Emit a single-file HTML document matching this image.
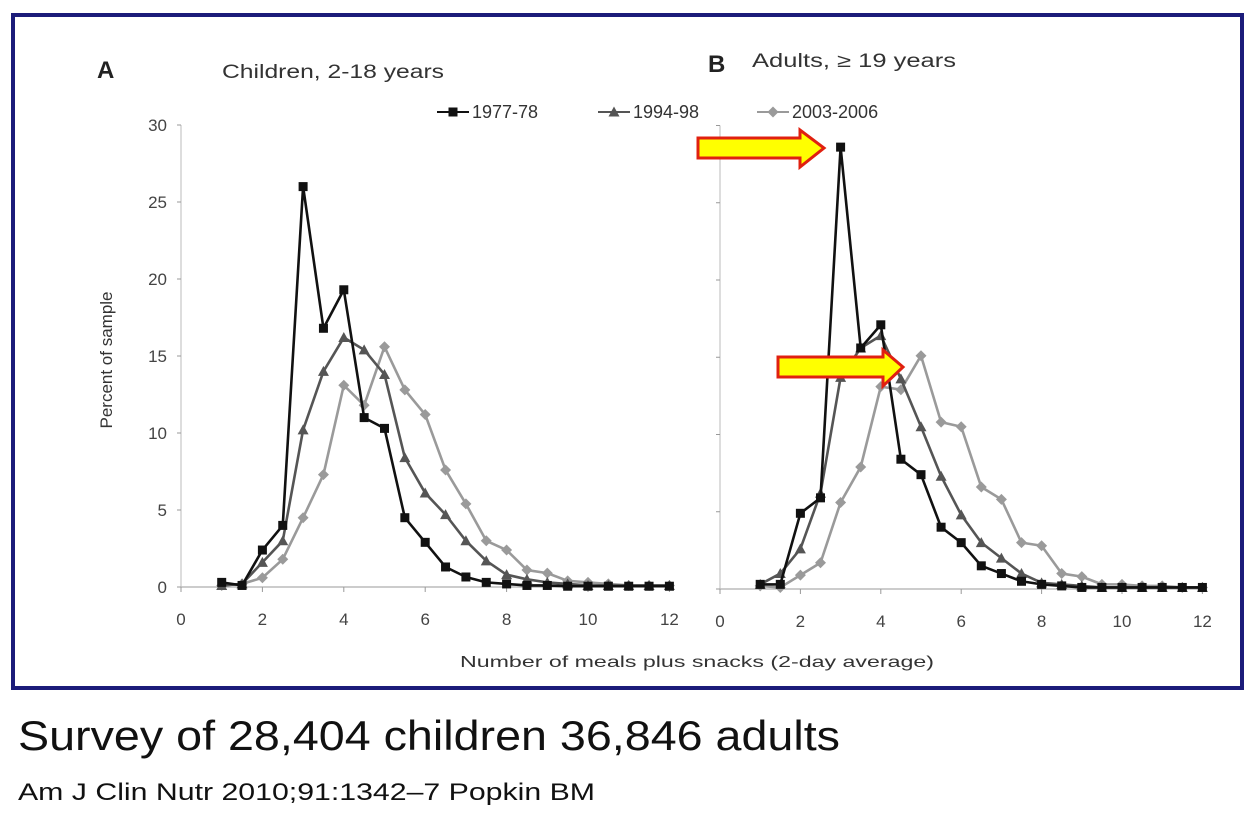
<!DOCTYPE html>
<html><head><meta charset="utf-8"><style>
html,body{margin:0;padding:0;background:#fff;width:1256px;height:816px;overflow:hidden;font-family:"Liberation Sans",sans-serif}
</style></head><body>
<svg width="1256" height="816" viewBox="0 0 1256 816" xmlns="http://www.w3.org/2000/svg">
<rect x="13" y="15" width="1229" height="673" fill="#fff" stroke="#1c1c7a" stroke-width="4"/>
<g font-family="Liberation Sans, sans-serif" fill="#333">
<text x="97" y="78" font-size="24" font-weight="bold" fill="#222">A</text>
<text x="222" y="78" font-size="19" textLength="222" lengthAdjust="spacingAndGlyphs">Children, 2-18 years</text>
<text x="708" y="72" font-size="24" font-weight="bold" fill="#222">B</text>
<text x="752" y="67" font-size="19" textLength="204" lengthAdjust="spacingAndGlyphs">Adults, ≥ 19 years</text>
<text transform="translate(112,360) rotate(-90)" text-anchor="middle" font-size="17">Percent of sample</text>
<text x="697" y="667" text-anchor="middle" font-size="16" textLength="474" lengthAdjust="spacingAndGlyphs">Number of meals plus snacks (2-day average)</text>
</g>
<g id="legend"></g>
<g id="plotA"></g>
<g id="plotB"></g>
<g>
<polygon points="698,138 800,138 800,130 824,148 800,167 800,158 698,158" fill="#ffff00" stroke="#e02010" stroke-width="3"/>
</g>
<g>
<polygon points="778,357 883,357 883,350 903,367 883,386 883,377 778,377" fill="#ffff00" stroke="#e02010" stroke-width="3"/>
</g>
<text x="18" y="750" font-size="42" fill="#111" textLength="822" lengthAdjust="spacingAndGlyphs" font-family="Liberation Sans, sans-serif">Survey of 28,404 children 36,846 adults</text>
<text x="18" y="800" font-size="24" fill="#111" textLength="577" lengthAdjust="spacingAndGlyphs" font-family="Liberation Sans, sans-serif">Am J Clin Nutr 2010;91:1342–7 Popkin BM</text>
</svg>
<script>
const xValues=[1,1.5,2,2.5,3,3.5,4,4.5,5,5.5,6,6.5,7,7.5,8,8.5,9,9.5,10,10.5,11,11.5,12];
const xTicks=[0,2,4,6,8,10,12];
const yTicks=[0,5,10,15,20,25,30];
const seriesNames=["1977-78","1994-98","2003-2006"];
const childA1977=[0.3,0.1,2.4,4.0,26,16.8,19.3,11.0,10.3,4.5,2.9,1.3,0.65,0.3,0.2,0.1,0.1,0.05,0.05,0.05,0.05,0.05,0.05];
const childA1994=[0.1,0.2,1.6,3.0,10.2,14,16.2,15.4,13.8,8.4,6.1,4.7,3.0,1.7,0.8,0.5,0.3,0.2,0.1,0.1,0.1,0.1,0.1];
const childA2003=[0.1,0.2,0.6,1.8,4.5,7.3,13.1,11.8,15.6,12.8,11.2,7.6,5.4,3.0,2.4,1.1,0.9,0.4,0.3,0.2,0.1,0.1,0.1];
const adultB1977=[0.3,0.3,4.9,5.9,28.6,15.6,17.1,8.4,7.4,4.0,3.0,1.5,1.0,0.5,0.3,0.2,0.1,0.1,0.1,0.1,0.1,0.1,0.1];
const adultB1994=[0.3,1.0,2.6,6.2,13.7,15.6,16.4,13.6,10.5,7.3,4.8,3.0,2.0,1.0,0.4,0.3,0.2,0.1,0.1,0.1,0.1,0.1,0.1];
const adultB2003=[0.2,0.1,0.9,1.7,5.6,7.9,13.1,12.9,15.1,10.8,10.5,6.6,5.8,3.0,2.8,1.0,0.8,0.3,0.3,0.2,0.2,0.1,0.1];
const NS="http://www.w3.org/2000/svg";
const colors=["#111","#555","#9a9a9a"];
function mk(tag,attrs,parent){const e=document.createElementNS(NS,tag);for(const k in attrs)e.setAttribute(k,attrs[k]);parent.appendChild(e);return e;}
function marker(kind,cx,cy,col,parent,s){
  let e;
  if(kind===0) e=mk('rect',{x:cx-s,y:cy-s,width:2*s,height:2*s,fill:col},parent);
  else if(kind===1) e=mk('polygon',{points:`${cx},${cy-s-1} ${cx+s+1},${cy+s} ${cx-s-1},${cy+s}`,fill:col},parent);
  else e=mk('polygon',{points:`${cx},${cy-s-1} ${cx+s+1},${cy} ${cx},${cy+s+1} ${cx-s-1},${cy}`,fill:col},parent);
  return e;
}
function drawPanel(g,x0,xs,y0,ys,data,showYLabels,prefix){
  const X=v=>x0+v*xs, Y=v=>y0-v*ys;
  mk('line',{x1:x0,y1:Y(0),x2:X(12),y2:Y(0),stroke:'#999','stroke-width':1},g);
  mk('line',{x1:x0,y1:Y(0),x2:x0,y2:Y(30),stroke:'#bbb','stroke-width':1},g);
  yTicks.forEach(t=>{
    mk('line',{x1:x0-4,y1:Y(t),x2:x0,y2:Y(t),stroke:'#999'},g);
    if(showYLabels){const tx=mk('text',{x:x0-14,y:Y(t)+6,'text-anchor':'end','font-size':17,fill:'#444','font-family':'Liberation Sans, sans-serif'},g);tx.textContent=t;
    
    }
  });
  xTicks.forEach(t=>{
    mk('line',{x1:X(t),y1:Y(0),x2:X(t),y2:Y(0)+5,stroke:'#999'},g);
    const tx=mk('text',{x:X(t),y:Y(0)+38,'text-anchor':'middle','font-size':17,fill:'#444','font-family':'Liberation Sans, sans-serif'},g);tx.textContent=t;
    
    
  });
  [2,1,0].forEach(si=>{
    const vals=data[si];
    const pts=vals.map((v,i)=>X(xValues[i])+','+Y(v)).join(' ');
    const pl=mk('polyline',{points:pts,fill:'none',stroke:colors[si],'stroke-width':2.6,'stroke-linejoin':'round'},g);
    
    
    vals.forEach((v,i)=>{const m=marker(si,X(xValues[i]),Y(v),colors[si],g,4.5);
      
      });
  });
}
drawPanel(document.getElementById('plotA'),181,40.7,587,15.4,[childA1977,childA1994,childA2003],true,'children');
drawPanel(document.getElementById('plotB'),720,40.2,589,15.45,[adultB1977,adultB1994,adultB2003],false,'adults');
const lg=document.getElementById('legend');
const lx=[437,598,757];
seriesNames.forEach((n,i)=>{
  const ln=mk('line',{x1:lx[i],y1:112,x2:lx[i]+32,y2:112,stroke:colors[i],'stroke-width':2},lg);
  
  
  const m=marker(i,lx[i]+16,112,colors[i],lg,4.5);
  
  
  const t=mk('text',{x:lx[i]+35,y:118,'font-size':18,fill:'#333','font-family':'Liberation Sans, sans-serif'},lg);
  t.textContent=n;
  
  
});
</script>
</body></html>
